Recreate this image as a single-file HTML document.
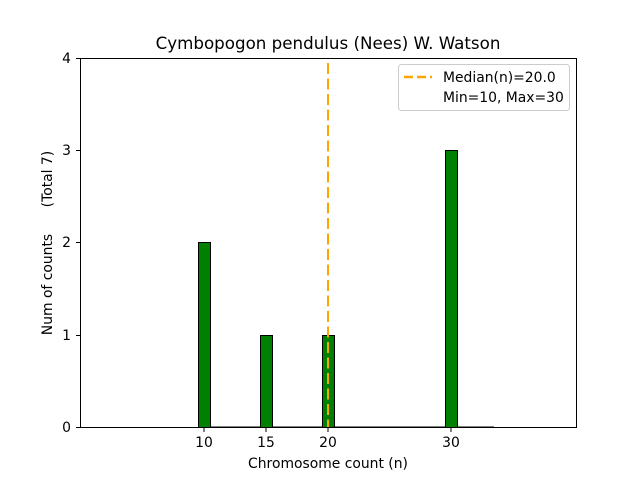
<!DOCTYPE html>
<html><head><meta charset="utf-8"><style>body{margin:0;background:#fff}svg{display:block}</style></head><body>
<svg width="640" height="480" xmlns="http://www.w3.org/2000/svg" font-family="DejaVu Sans, Liberation Sans, sans-serif">
<rect width="640" height="480" fill="#fff"/>
<text x="328" y="49" font-size="16.7" text-anchor="middle" fill="#000">Cymbopogon pendulus (Nees) W. Watson</text>
<line x1="198" y1="427" x2="494" y2="427" stroke="#000" stroke-width="1"/>
<g fill="#008000" stroke="#000" stroke-width="1">
<rect x="198.5" y="242.5" width="12" height="185"/>
<rect x="260.5" y="335.5" width="12" height="92"/>
<rect x="322.5" y="335.5" width="12" height="92"/>
<rect x="445.5" y="150.5" width="12" height="277"/>
</g>
<line x1="328" y1="63" x2="328" y2="427" stroke="#FFA500" stroke-width="2" stroke-dasharray="11,4.5"/>
<rect x="80.5" y="58.5" width="496" height="369" fill="none" stroke="#000" stroke-width="1"/>
<g stroke="#000" stroke-width="1">
<line x1="204" y1="427" x2="204" y2="432"/><line x1="266" y1="427" x2="266" y2="432"/><line x1="328" y1="427" x2="328" y2="432"/><line x1="451" y1="427" x2="451" y2="432"/>
<line x1="76" y1="58.5" x2="80" y2="58.5"/><line x1="76" y1="150.5" x2="80" y2="150.5"/><line x1="76" y1="242.5" x2="80" y2="242.5"/><line x1="76" y1="335.5" x2="80" y2="335.5"/><line x1="76" y1="427.5" x2="80" y2="427.5"/>
</g>
<g font-size="13.9" fill="#000" text-anchor="middle">
<text x="204" y="447">10</text><text x="266" y="447">15</text><text x="328" y="447">20</text><text x="451" y="447">30</text>
<text x="328" y="468">Chromosome count (n)</text>
</g>
<g font-size="13.9" fill="#000" text-anchor="end">
<text x="71" y="63">4</text><text x="71" y="155">3</text><text x="71" y="247">2</text><text x="71" y="340">1</text><text x="71" y="432">0</text>
</g>
<text transform="translate(52,243) rotate(-90)" font-size="13.9" text-anchor="middle" fill="#000" xml:space="preserve" style="white-space:pre">Num of counts      (Total 7)</text>
<rect x="398.5" y="64.5" width="171" height="46" rx="3" fill="#fff" stroke="#ccc"/>
<line x1="404" y1="77" x2="432" y2="77" stroke="#FFA500" stroke-width="2.5" stroke-dasharray="9,4"/>
<text x="443" y="82" font-size="13.9" fill="#000">Median(n)=20.0</text>
<text x="443" y="102" font-size="13.9" fill="#000">Min=10, Max=30</text>
</svg>
</body></html>
